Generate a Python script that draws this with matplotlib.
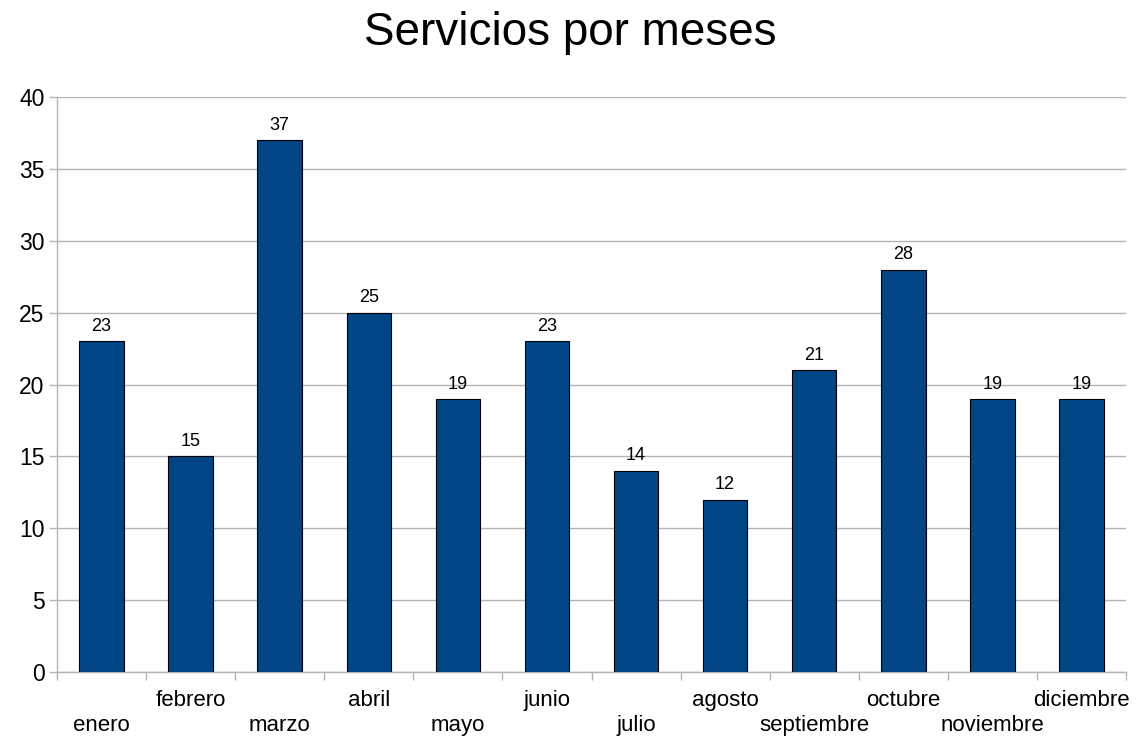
import matplotlib
matplotlib.use("Agg")
import matplotlib.pyplot as plt
import matplotlib.transforms as mtransforms
import numpy as np

meses = ["enero", "febrero", "marzo", "abril", "mayo", "junio",
         "julio", "agosto", "septiembre", "octubre", "noviembre", "diciembre"]
servicios = [23, 15, 37, 25, 19, 23, 14, 12, 21, 28, 19, 19]

plt.rcParams["font.family"] = ["Liberation Sans", "DejaVu Sans"]

W, H = 1140, 736
fig = plt.figure(figsize=(W / 100, H / 100), dpi=100)
ax = fig.add_axes([57 / W, 64 / H, (1126 - 57) / W, (672 - 97) / H])

x = np.arange(len(meses))
bars = ax.bar(x, servicios, width=0.5, color="#004586", edgecolor="black", linewidth=0.8, zorder=3)
ax.bar_label(bars, labels=[str(v) for v in servicios], padding=4.5, fontsize=13)

ax.set_xlim(-0.5, len(meses) - 0.5)
ax.set_ylim(0, 40)
ax.set_yticks(range(0, 41, 5))
ax.grid(axis="y", color="#b3b3b3", linewidth=1, zorder=0)

# ticks entre categorias, etiquetas escalonadas a mano
ax.set_xticks(np.arange(-0.5, len(meses)))
ax.set_xticklabels([])
ax.tick_params(axis="x", length=6, color="#b3b3b3", width=1)
ax.tick_params(axis="y", length=6, color="#b3b3b3", width=1, labelsize=16.5, pad=3)

trans = mtransforms.blended_transform_factory(ax.transData, fig.transFigure)
for i, m in enumerate(meses):
    base = 731 if i % 2 == 0 else 706   # linea base en pixeles desde arriba
    ax.text(i, 1 - base / H, m, transform=trans, ha="center", va="baseline", fontsize=16)

for s in ["top", "right"]:
    ax.spines[s].set_visible(False)
for s in ["left", "bottom"]:
    ax.spines[s].set_color("#b3b3b3")
    ax.spines[s].set_linewidth(1)

fig.text(0.5, 1 - 45 / H, "Servicios por meses", fontsize=33, ha="center", va="baseline")

fig.savefig("out.png", dpi=100)
